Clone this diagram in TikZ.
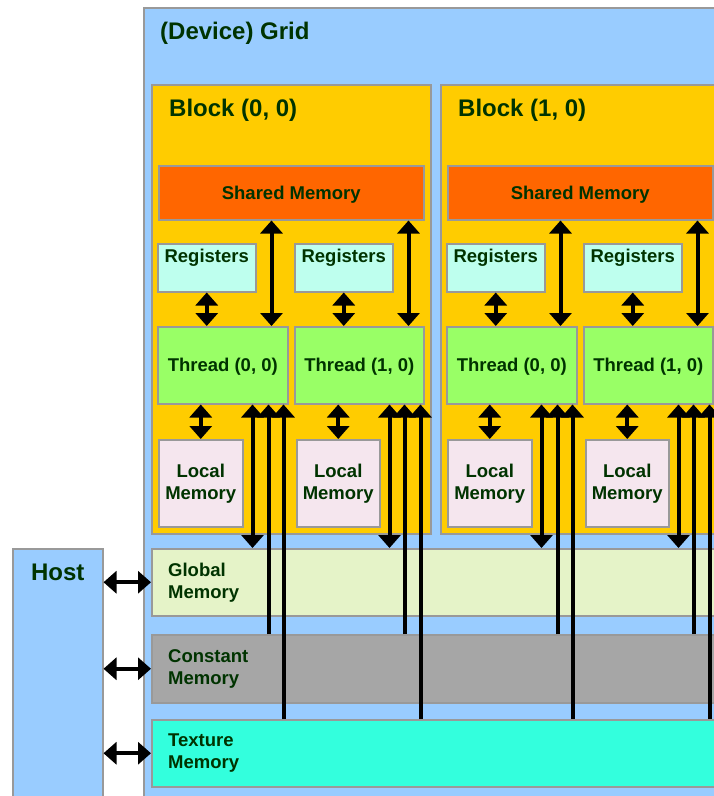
\documentclass[tikz,border=0pt]{standalone}
\usepackage{fontspec}
\setmainfont{Liberation Sans}
\usepackage{tikz}
\usetikzlibrary{arrows.meta,positioning}

\definecolor{gridblue}{RGB}{153,204,255}
\definecolor{blockyellow}{RGB}{255,204,0}
\definecolor{sharedorange}{RGB}{255,102,0}
\definecolor{regcyan}{RGB}{190,255,238}
\definecolor{threadgreen}{RGB}{153,255,102}
\definecolor{localpink}{RGB}{245,230,238}
\definecolor{globalgreen}{RGB}{229,243,200}
\definecolor{constgrey}{RGB}{166,166,166}
\definecolor{texcyan}{RGB}{51,255,221}
\definecolor{edgegrey}{RGB}{153,153,153}
\definecolor{textgreen}{RGB}{0,51,0}

\begin{document}
\begin{tikzpicture}[x=1pt,y=-1pt]
\tikzstyle{box}=[draw=edgegrey, line width=1.5pt, inner sep=0pt, anchor=north west]
\tikzstyle{big}=[text=textgreen, inner sep=0pt, font=\bfseries\fontsize{24}{28}\selectfont]
\tikzstyle{small}=[text=textgreen, font=\bfseries\fontsize{18.5}{22}\selectfont, align=center]
\tikzstyle{single}=[small, text depth=0pt]
\tikzstyle{title}=[big, anchor=base west, xshift=17pt, yshift=-32pt]
\tikzstyle{link}=[line width=4pt, {Triangle[width=22pt,length=13pt]}-{Triangle[width=22pt,length=13pt]}]
\tikzstyle{uplink}=[line width=4pt, -{Triangle[width=22pt,length=13pt]}]
\useasboundingbox (0,0) rectangle (714,796);
\clip (0,0) rectangle (714,796);
% grid and host
\node [box, fill=gridblue, minimum width=620pt, minimum height=820pt,
  label={[title]north west:(Device) Grid}] (grid) at (143,7) {};
\node [box, fill=gridblue, minimum width=90pt, minimum height=300pt,
  label={[big, anchor=base, yshift=-32pt]north:Host}] (host) at (12,548) {};
% blocks
\node [box, fill=blockyellow, minimum width=279pt, minimum height=449pt,
  label={[title, xshift=1pt]north west:Block (0, 0)}] (blk0) at (151,84) {};
\node [box, fill=blockyellow, minimum width=279pt, minimum height=449pt,
  label={[title, xshift=1pt]north west:Block (1, 0)}] (blk1) at (440,84) {};
% block (0, 0)
\node [box, single, fill=sharedorange, minimum width=265pt, minimum height=54pt] (sh0) at (158,165) {Shared Memory};
\node [box, fill=regcyan, minimum width=98pt, minimum height=48pt,
  label={[small, inner sep=0pt, anchor=base, yshift=-19pt]north:Registers}] (r00) at (157,243) {};
\node [box, fill=regcyan, minimum width=98pt, minimum height=48pt,
  label={[small, inner sep=0pt, anchor=base, yshift=-19pt]north:Registers}] (r01) at (294,243) {};
\node [box, single, fill=threadgreen, minimum width=130pt, minimum height=77pt] (t00) at (157,326) {Thread (0, 0)};
\node [box, single, fill=threadgreen, minimum width=129pt, minimum height=77pt] (t01) at (294,326) {Thread (1, 0)};
\node [box, small, fill=localpink, minimum width=84pt, minimum height=87pt] (l00) at (158,439) {Local\\Memory};
\node [box, small, fill=localpink, minimum width=83pt, minimum height=87pt] (l01) at (296,439) {Local\\Memory};
% block (1, 0)
\node [box, single, fill=sharedorange, minimum width=265pt, minimum height=54pt] (sh1) at (447,165) {Shared Memory};
\node [box, fill=regcyan, minimum width=98pt, minimum height=48pt,
  label={[small, inner sep=0pt, anchor=base, yshift=-19pt]north:Registers}] (r10) at (446,243) {};
\node [box, fill=regcyan, minimum width=98pt, minimum height=48pt,
  label={[small, inner sep=0pt, anchor=base, yshift=-19pt]north:Registers}] (r11) at (583,243) {};
\node [box, single, fill=threadgreen, minimum width=130pt, minimum height=77pt] (t10) at (446,326) {Thread (0, 0)};
\node [box, single, fill=threadgreen, minimum width=129pt, minimum height=77pt] (t11) at (583,326) {Thread (1, 0)};
\node [box, small, fill=localpink, minimum width=84pt, minimum height=87pt] (l10) at (447,439) {Local\\Memory};
\node [box, small, fill=localpink, minimum width=83pt, minimum height=87pt] (l11) at (585,439) {Local\\Memory};
% memories
\node [box, fill=globalgreen, minimum width=600pt, minimum height=67pt] (gmem) at (151,548) {};
\node [box, fill=constgrey, minimum width=600pt, minimum height=68pt] (cmem) at (151,634) {};
\node [box, fill=texcyan, minimum width=600pt, minimum height=67pt] (tmem) at (151,719) {};
\node [small, align=left, inner sep=0pt, right=17pt of gmem.west] (gtxt) {Global\\Memory};
\node [small, align=left, inner sep=0pt, right=17pt of cmem.west] (ctxt) {Constant\\Memory};
\node [small, align=left, inner sep=0pt, right=17pt of tmem.west] (ttxt) {Texture\\Memory};
% host links
\draw [link] (host.east |- gmem.west) -- (gmem.west);
\draw [link] (host.east |- cmem.west) -- (cmem.west);
\draw [link] (host.east |- tmem.west) -- (tmem.west);
% registers, shared and local links
\draw [link] (r00.south) -- (r00.south |- t00.north);
\draw [link] (r01.south) -- (r01.south |- t01.north);
\draw [link] (r10.south) -- (r10.south |- t10.north);
\draw [link] (r11.south) -- (r11.south |- t11.north);
\draw [link] ([xshift=-17pt]t00.north east |- sh0.south) -- ([xshift=-17pt]t00.north east);
\draw [link] ([xshift=-16pt]t01.north east |- sh0.south) -- ([xshift=-16pt]t01.north east);
\draw [link] ([xshift=-17pt]t10.north east |- sh1.south) -- ([xshift=-17pt]t10.north east);
\draw [link] ([xshift=-16pt]t11.north east |- sh1.south) -- ([xshift=-16pt]t11.north east);
\draw [link] (l00.north |- t00.south) -- (l00.north);
\draw [link] (l01.north |- t01.south) -- (l01.north);
\draw [link] (l10.north |- t10.south) -- (l10.north);
\draw [link] (l11.north |- t11.south) -- (l11.north);
% global, constant and texture links
\draw [link] ([xshift=-36pt]t00.south east) -- ([xshift=-36pt]t00.south east |- gmem.north);
\draw [uplink] ([xshift=-20pt]t00.south east |- cmem.north) -- ([xshift=-20pt]t00.south east);
\draw [uplink] ([xshift=-5pt]t00.south east |- tmem.north) -- ([xshift=-5pt]t00.south east);
\draw [link] ([xshift=-35pt]t01.south east) -- ([xshift=-35pt]t01.south east |- gmem.north);
\draw [uplink] ([xshift=-20pt]t01.south east |- cmem.north) -- ([xshift=-20pt]t01.south east);
\draw [uplink] ([xshift=-4pt]t01.south east |- tmem.north) -- ([xshift=-4pt]t01.south east);
\draw [link] ([xshift=-36pt]t10.south east) -- ([xshift=-36pt]t10.south east |- gmem.north);
\draw [uplink] ([xshift=-20pt]t10.south east |- cmem.north) -- ([xshift=-20pt]t10.south east);
\draw [uplink] ([xshift=-5pt]t10.south east |- tmem.north) -- ([xshift=-5pt]t10.south east);
\draw [link] ([xshift=-35pt]t11.south east) -- ([xshift=-35pt]t11.south east |- gmem.north);
\draw [uplink] ([xshift=-20pt]t11.south east |- cmem.north) -- ([xshift=-20pt]t11.south east);
\draw [uplink] ([xshift=-4pt]t11.south east |- tmem.north) -- ([xshift=-4pt]t11.south east);
\end{tikzpicture}
\end{document}
